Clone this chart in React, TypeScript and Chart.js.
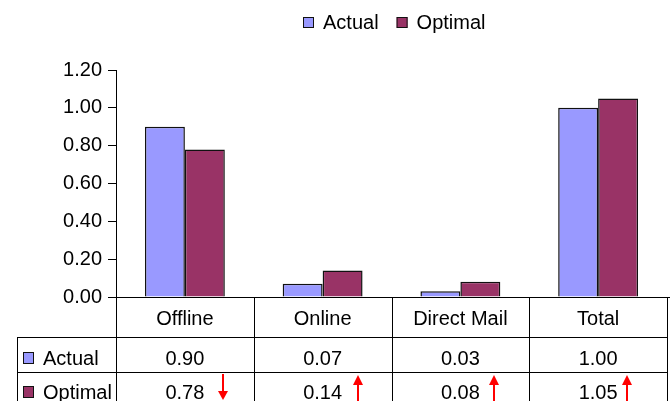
import React, { useEffect, useRef } from "react";
import { Chart, registerables } from "chart.js";

Chart.register(...registerables);

const categories = ["Offline", "Online", "Direct Mail", "Total"];
const seriesNames = ["Actual", "Optimal"];
const actualValues = [0.9, 0.07, 0.03, 1.0];
const optimalValues = [0.78, 0.14, 0.08, 1.05];
const seriesColors = ["#9999FF", "#993366"];
const yMin = 0;
const yMax = 1.2;
const yStep = 0.2;

const FONT = '20px "Liberation Sans", Arial, sans-serif';
const ARROW_DX = [38, 35, 34, 29];

const tablePlugin = {
  id: "dataTable",
  afterDraw(chart: any) {
    const ctx = chart.ctx;
    const xs = chart.scales.x;
    const area = chart.chartArea;
    const W = chart.width;
    const H = chart.height;
    const left = area.left;
    const right = area.right;
    const bottom = area.bottom;
    const colW = (right - left) / categories.length;
    const row1 = bottom + 40;
    const row2 = bottom + 75;
    const tableLeft = 17;

    ctx.save();
    ctx.strokeStyle = "#000";
    ctx.lineWidth = 1;
    const line = (x1: number, y1: number, x2: number, y2: number) => {
      ctx.beginPath();
      ctx.moveTo(x1, y1);
      ctx.lineTo(x2, y2);
      ctx.stroke();
    };
    // x axis line
    line(left, bottom + 0.5, W, bottom + 0.5);
    // row lines
    line(tableLeft, row1 + 0.5, right, row1 + 0.5);
    line(tableLeft, row2 + 0.5, right, row2 + 0.5);
    // left border
    line(tableLeft + 0.5, row1, tableLeft + 0.5, H);
    // column dividers
    for (let i = 0; i <= categories.length; i++) {
      const x = Math.round(left + i * colW) + 0.5;
      line(x, bottom, x, H);
    }

    ctx.font = FONT;
    ctx.fillStyle = "#000";
    ctx.textBaseline = "alphabetic";
    ctx.textAlign = "center";
    const series = [actualValues, optimalValues];
    categories.forEach((c, i) => {
      const cx = xs.getPixelForValue(i);
      ctx.fillText(c, cx, bottom + 27.5);
      ctx.fillText(series[0][i].toFixed(2), cx, bottom + 68);
      ctx.fillText(series[1][i].toFixed(2), cx, bottom + 102);
    });

    // row labels with keys
    ctx.textAlign = "left";
    const rowCenters = [bottom + 61, bottom + 95];
    seriesNames.forEach((name, k) => {
      const cy = rowCenters[k];
      ctx.fillStyle = seriesColors[k];
      ctx.fillRect(23, cy - 5.5, 11, 11);
      ctx.strokeStyle = "#111";
      ctx.strokeRect(23.5, cy - 5.5, 10, 11);
      ctx.fillStyle = "#000";
      ctx.fillText(name, 43, cy + 7);
    });

    // arrows
    ctx.strokeStyle = "#FF0000";
    ctx.fillStyle = "#FF0000";
    ctx.lineWidth = 2;
    categories.forEach((c, i) => {
      const ax = Math.round(xs.getPixelForValue(i) + ARROW_DX[i]);
      const up = optimalValues[i] > actualValues[i];
      if (up) {
        const tip = row2 + 3;
        ctx.beginPath();
        ctx.moveTo(ax, tip + 8);
        ctx.lineTo(ax, H);
        ctx.stroke();
        ctx.beginPath();
        ctx.moveTo(ax, tip);
        ctx.lineTo(ax - 5, tip + 10);
        ctx.lineTo(ax + 5, tip + 10);
        ctx.closePath();
        ctx.fill();
      } else {
        const tip = H - 1;
        ctx.beginPath();
        ctx.moveTo(ax, row2 + 2);
        ctx.lineTo(ax, tip - 8);
        ctx.stroke();
        ctx.beginPath();
        ctx.moveTo(ax, tip);
        ctx.lineTo(ax - 5, tip - 9);
        ctx.lineTo(ax + 5, tip - 9);
        ctx.closePath();
        ctx.fill();
      }
    });

    // legend
    ctx.font = FONT;
    ctx.textAlign = "left";
    ctx.lineWidth = 1;
    let lx = 303;
    const ly = 22;
    seriesNames.forEach((name, k) => {
      ctx.fillStyle = seriesColors[k];
      ctx.fillRect(lx, ly - 5, 11, 11);
      ctx.strokeStyle = "#111";
      ctx.strokeRect(lx + 0.5, ly - 4.5, 10, 10);
      ctx.fillStyle = "#000";
      ctx.fillText(name, lx + 20, ly + 7);
      lx += 20 + ctx.measureText(name).width + 18;
    });
    ctx.restore();
  },
};

export default function App() {
  const ref = useRef<HTMLCanvasElement>(null);
  useEffect(() => {
    if (!ref.current) return;
    const chart = new Chart(ref.current, {
      type: "bar",
      data: {
        labels: categories,
        datasets: [
          {
            label: seriesNames[0],
            data: actualValues,
            backgroundColor: seriesColors[0],
            borderColor: "#111",
            borderWidth: 1.5,
            categoryPercentage: 0.58,
            barPercentage: 1,
          },
          {
            label: seriesNames[1],
            data: optimalValues,
            backgroundColor: seriesColors[1],
            borderColor: "#111",
            borderWidth: 1.5,
            categoryPercentage: 0.58,
            barPercentage: 1,
          },
        ],
      },
      options: {
        animation: false,
        responsive: true,
        maintainAspectRatio: false,
        layout: { padding: { top: 70, bottom: 104, left: 0, right: 3 } },
        plugins: {
          legend: { display: false },
          tooltip: { enabled: false },
          title: { display: false },
        },
        scales: {
          x: {
            display: false,
          },
          y: {
            min: yMin,
            max: yMax,
            ticks: {
              stepSize: yStep,
              color: "#000",
              padding: 6,
              font: { family: '"Liberation Sans", Arial, sans-serif', size: 20 },
              callback: (v: any) => Number(v).toFixed(2),
            },
            grid: {
              drawOnChartArea: false,
              tickLength: 8,
              color: "#000",
            },
            border: { display: true, color: "#000", width: 1 },
            afterFit: (scale: any) => {
              scale.width = 116;
            },
          },
        },
      },
      plugins: [tablePlugin],
    });
    return () => chart.destroy();
  }, []);
  return (
    <div style={{ position: "absolute", left: 0, top: 0, width: 670, height: 401 }}>
      <canvas ref={ref} />
    </div>
  );
}
